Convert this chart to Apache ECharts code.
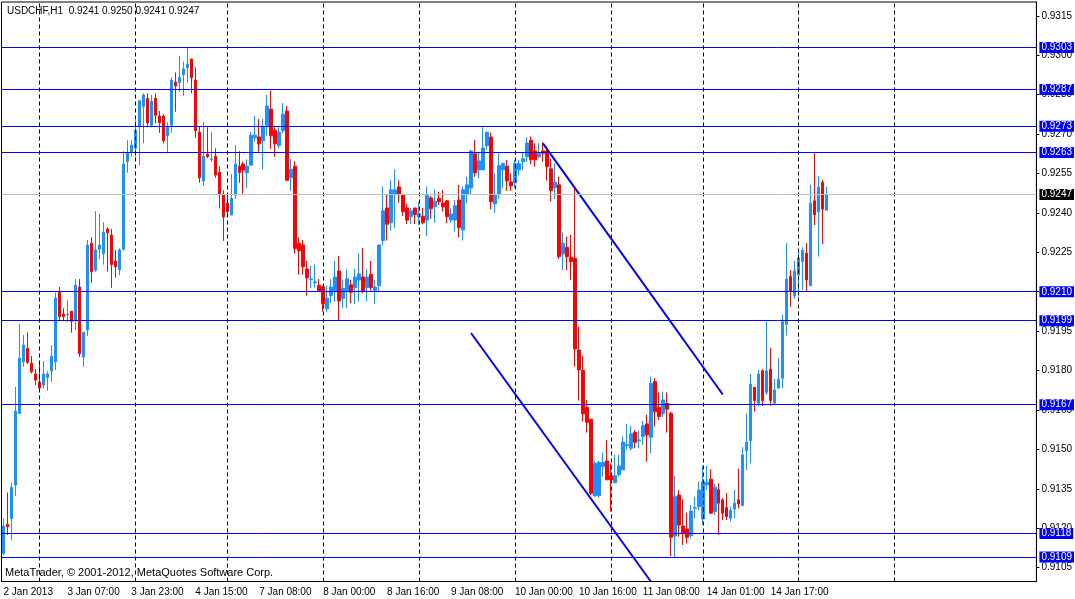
<!DOCTYPE html>
<html>
<head>
<meta charset="utf-8">
<title>USDCHF,H1</title>
<script src="https://cdn.jsdelivr.net/npm/echarts@6/dist/echarts.min.js"></script>
<style>
  html, body { margin: 0; padding: 0; background: #fff; }
  #chart-container { width: 1075px; height: 599px; }
</style>
</head>
<body>
<div id="chart-container"></div>
<script>
var dom = document.getElementById("chart-container");
var myChart = echarts.init(dom, null, { renderer: "canvas" });

// trading days: [label, first hour, last hour]
var days = [
  ["2 Jan", 15, 23], ["3 Jan", 0, 23], ["4 Jan", 0, 22], ["7 Jan", 0, 23],
  ["8 Jan", 0, 23], ["9 Jan", 0, 23], ["10 Jan", 0, 23], ["11 Jan", 0, 22],
  ["14 Jan", 0, 23], ["15 Jan", 0, 23], ["16 Jan", 0, 23], ["17 Jan", 0, 11]
];

// H1 bars: [open, close, low, high]
var candles = [
  [0.91104, 0.91208, 0.91097, 0.91237], [0.91215, 0.91205, 0.91174, 0.91336],
  [0.91236, 0.91355, 0.91155, 0.91374], [0.91364, 0.91646, 0.91323, 0.91738],
  [0.91636, 0.91847, 0.91636, 0.91977], [0.91833, 0.91897, 0.91814, 0.91935],
  [0.91885, 0.91831, 0.91825, 0.91945], [0.91828, 0.91795, 0.91789, 0.91855],
  [0.91787, 0.91764, 0.91745, 0.91806], [0.91756, 0.91734, 0.91723, 0.91830],
  [0.91745, 0.91787, 0.91732, 0.91836], [0.91773, 0.91787, 0.91723, 0.91798],
  [0.91798, 0.91855, 0.91757, 0.91897], [0.91833, 0.92076, 0.91802, 0.92097],
  [0.92097, 0.92005, 0.91988, 0.92118], [0.92015, 0.92005, 0.91988, 0.92037],
  [0.92012, 0.92015, 0.91986, 0.92068], [0.92026, 0.91988, 0.91944, 0.92026],
  [0.91992, 0.92125, 0.91954, 0.92148], [0.92118, 0.91864, 0.91852, 0.92148],
  [0.91852, 0.91946, 0.91814, 0.91946], [0.91954, 0.92278, 0.91932, 0.92297],
  [0.92285, 0.92176, 0.92134, 0.92308], [0.92182, 0.92259, 0.92176, 0.92407],
  [0.92262, 0.92278, 0.92224, 0.92397], [0.92245, 0.92327, 0.92203, 0.92365],
  [0.92339, 0.92325, 0.92176, 0.92346], [0.92316, 0.92203, 0.92115, 0.92339],
  [0.92217, 0.92195, 0.92153, 0.92259], [0.92184, 0.92259, 0.92163, 0.92265],
  [0.92262, 0.92586, 0.92256, 0.92635], [0.92595, 0.92628, 0.92553, 0.92677],
  [0.92632, 0.92658, 0.92614, 0.92677], [0.92646, 0.92715, 0.92614, 0.92753],
  [0.92728, 0.92827, 0.92582, 0.92830], [0.92804, 0.92849, 0.92665, 0.92855],
  [0.92836, 0.92743, 0.92726, 0.92855], [0.92734, 0.92826, 0.92726, 0.92849],
  [0.92836, 0.92772, 0.92741, 0.92855], [0.92769, 0.92743, 0.92705, 0.92788],
  [0.92769, 0.92675, 0.92665, 0.92776], [0.92694, 0.92726, 0.92627, 0.92745],
  [0.92734, 0.92906, 0.92705, 0.92916], [0.92898, 0.92883, 0.92785, 0.92935],
  [0.92896, 0.92916, 0.92861, 0.92997], [0.92926, 0.92948, 0.92846, 0.92976],
  [0.92953, 0.92967, 0.92896, 0.93030], [0.92986, 0.92915, 0.92855, 0.92986],
  [0.92906, 0.92713, 0.92686, 0.92954], [0.92708, 0.92534, 0.92515, 0.92728],
  [0.92522, 0.92616, 0.92503, 0.92746], [0.92624, 0.92614, 0.92608, 0.92726],
  [0.92604, 0.92606, 0.92595, 0.92708], [0.92616, 0.92544, 0.92534, 0.92646],
  [0.92555, 0.92472, 0.92417, 0.92578], [0.92469, 0.92385, 0.92294, 0.92486],
  [0.92437, 0.92405, 0.92385, 0.92469], [0.92392, 0.92455, 0.92392, 0.92548],
  [0.92468, 0.92586, 0.92453, 0.92658], [0.92578, 0.92553, 0.92515, 0.92635],
  [0.92586, 0.92563, 0.92473, 0.92595], [0.92553, 0.92578, 0.92496, 0.92604],
  [0.92582, 0.92696, 0.92582, 0.92708], [0.92686, 0.92696, 0.92672, 0.92769],
  [0.92689, 0.92663, 0.92633, 0.92757], [0.92675, 0.92726, 0.92566, 0.92757],
  [0.92734, 0.92807, 0.92694, 0.92849], [0.92795, 0.92694, 0.92644, 0.92866],
  [0.92715, 0.92663, 0.92614, 0.92726], [0.92657, 0.92708, 0.92646, 0.92726],
  [0.92713, 0.92776, 0.92703, 0.92818], [0.92788, 0.92524, 0.92524, 0.92807],
  [0.92534, 0.92566, 0.92484, 0.92606], [0.92578, 0.92265, 0.92246, 0.92597],
  [0.92284, 0.92256, 0.92165, 0.92307], [0.92278, 0.92195, 0.92165, 0.92297],
  [0.92187, 0.92153, 0.92085, 0.92217], [0.92147, 0.92149, 0.92115, 0.92198],
  [0.92135, 0.92138, 0.92115, 0.92204], [0.92124, 0.92104, 0.92104, 0.92148],
  [0.92118, 0.92054, 0.92024, 0.92124], [0.92035, 0.92075, 0.92024, 0.92124],
  [0.92086, 0.92118, 0.92056, 0.92148], [0.92104, 0.92156, 0.92062, 0.92217],
  [0.92179, 0.92065, 0.91993, 0.92236], [0.92075, 0.92113, 0.92037, 0.92147],
  [0.92104, 0.92149, 0.92037, 0.92185], [0.92126, 0.92098, 0.92056, 0.92145],
  [0.92116, 0.92156, 0.92053, 0.92187], [0.92145, 0.92168, 0.92062, 0.92246],
  [0.92156, 0.92103, 0.92094, 0.92267], [0.92116, 0.92156, 0.92065, 0.92185],
  [0.92166, 0.92116, 0.92104, 0.92217], [0.92103, 0.92118, 0.92053, 0.92145],
  [0.92123, 0.92278, 0.92104, 0.92278], [0.92295, 0.92408, 0.92278, 0.92500],
  [0.92419, 0.92357, 0.92295, 0.92472], [0.92363, 0.92488, 0.92333, 0.92524],
  [0.92472, 0.92488, 0.92342, 0.92566], [0.92499, 0.92472, 0.92439, 0.92524],
  [0.92467, 0.92405, 0.92389, 0.92469], [0.92419, 0.92373, 0.92358, 0.92436],
  [0.92386, 0.92408, 0.92358, 0.92419], [0.92419, 0.92394, 0.92358, 0.92419],
  [0.92386, 0.92396, 0.92354, 0.92441], [0.92387, 0.92363, 0.92357, 0.92419],
  [0.92373, 0.92467, 0.92312, 0.92500], [0.92457, 0.92416, 0.92378, 0.92465],
  [0.92424, 0.92444, 0.92363, 0.92488], [0.92456, 0.92443, 0.92430, 0.92481],
  [0.92438, 0.92423, 0.92405, 0.92488], [0.92446, 0.92386, 0.92361, 0.92449],
  [0.92373, 0.92396, 0.92363, 0.92418], [0.92373, 0.92427, 0.92329, 0.92449],
  [0.92449, 0.92344, 0.92307, 0.92507], [0.92335, 0.92488, 0.92295, 0.92500],
  [0.92472, 0.92507, 0.92437, 0.92538], [0.92495, 0.92636, 0.92469, 0.92640],
  [0.92625, 0.92553, 0.92538, 0.92678], [0.92564, 0.92598, 0.92532, 0.92633],
  [0.92564, 0.92647, 0.92564, 0.92726], [0.92656, 0.92707, 0.92640, 0.92710],
  [0.92689, 0.92443, 0.92414, 0.92706], [0.92435, 0.92468, 0.92401, 0.92551],
  [0.92472, 0.92580, 0.92453, 0.92627], [0.92564, 0.92588, 0.92494, 0.92592],
  [0.92578, 0.92522, 0.92484, 0.92602], [0.92518, 0.92503, 0.92484, 0.92551],
  [0.92515, 0.92588, 0.92494, 0.92602], [0.92564, 0.92588, 0.92545, 0.92602],
  [0.92595, 0.92606, 0.92564, 0.92633], [0.92614, 0.92666, 0.92595, 0.92688],
  [0.92677, 0.92603, 0.92585, 0.92691], [0.92636, 0.92602, 0.92576, 0.92665],
  [0.92614, 0.92625, 0.92608, 0.92665], [0.92636, 0.92627, 0.92595, 0.92669],
  [0.92636, 0.92576, 0.92523, 0.92653], [0.92568, 0.92485, 0.92443, 0.92606],
  [0.92496, 0.92517, 0.92453, 0.92589], [0.92507, 0.92234, 0.92225, 0.92538],
  [0.92244, 0.92285, 0.92183, 0.92326], [0.92269, 0.92234, 0.92183, 0.92310],
  [0.92231, 0.92215, 0.92145, 0.92316], [0.92227, 0.91882, 0.91815, 0.92500],
  [0.91878, 0.91802, 0.91686, 0.91967], [0.91800, 0.91636, 0.91606, 0.91857],
  [0.91660, 0.91603, 0.91564, 0.91688], [0.91615, 0.91333, 0.91326, 0.91615],
  [0.91323, 0.91447, 0.91320, 0.91456], [0.91324, 0.91450, 0.91316, 0.91456],
  [0.91434, 0.91450, 0.91396, 0.91488], [0.91456, 0.91384, 0.91384, 0.91536],
  [0.91399, 0.91384, 0.91263, 0.91447], [0.91373, 0.91400, 0.91373, 0.91479],
  [0.91403, 0.91437, 0.91396, 0.91479], [0.91422, 0.91528, 0.91422, 0.91549],
  [0.91514, 0.91518, 0.91498, 0.91597], [0.91504, 0.91559, 0.91495, 0.91589],
  [0.91565, 0.91527, 0.91504, 0.91574], [0.91533, 0.91536, 0.91504, 0.91571],
  [0.91549, 0.91590, 0.91517, 0.91608], [0.91597, 0.91555, 0.91453, 0.91631],
  [0.91546, 0.91752, 0.91485, 0.91777], [0.91758, 0.91643, 0.91587, 0.91771],
  [0.91659, 0.91625, 0.91612, 0.91717], [0.91637, 0.91688, 0.91622, 0.91720],
  [0.91675, 0.91653, 0.91564, 0.91717], [0.91637, 0.91165, 0.91094, 0.91644],
  [0.91170, 0.91320, 0.91085, 0.91399], [0.91326, 0.91212, 0.91168, 0.91345],
  [0.91208, 0.91181, 0.91136, 0.91310], [0.91197, 0.91165, 0.91142, 0.91259],
  [0.91172, 0.91265, 0.91161, 0.91288], [0.91276, 0.91278, 0.91238, 0.91320],
  [0.91282, 0.91345, 0.91269, 0.91377], [0.91235, 0.91377, 0.91212, 0.91438],
  [0.91365, 0.91375, 0.91346, 0.91437], [0.91386, 0.91257, 0.91257, 0.91424],
  [0.91263, 0.91356, 0.91250, 0.91369], [0.91346, 0.91295, 0.91174, 0.91371],
  [0.91308, 0.91257, 0.91231, 0.91314], [0.91278, 0.91244, 0.91231, 0.91333],
  [0.91238, 0.91267, 0.91225, 0.91282], [0.91273, 0.91295, 0.91238, 0.91346],
  [0.91308, 0.91292, 0.91276, 0.91426], [0.91286, 0.91479, 0.91286, 0.91508],
  [0.91495, 0.91527, 0.91422, 0.91637], [0.91533, 0.91748, 0.91447, 0.91787],
  [0.91736, 0.91686, 0.91644, 0.91736], [0.91676, 0.91787, 0.91663, 0.91802],
  [0.91799, 0.91686, 0.91665, 0.91805], [0.91717, 0.91799, 0.91707, 0.91986],
  [0.91805, 0.91686, 0.91665, 0.91885], [0.91676, 0.91726, 0.91676, 0.91768],
  [0.91733, 0.91767, 0.91733, 0.91847], [0.91771, 0.91986, 0.91733, 0.92012],
  [0.91976, 0.92148, 0.91933, 0.92285], [0.92158, 0.92101, 0.92043, 0.92183],
  [0.92085, 0.92179, 0.92073, 0.92217], [0.92164, 0.92228, 0.92082, 0.92262],
  [0.92215, 0.92257, 0.92107, 0.92269], [0.92247, 0.92145, 0.92101, 0.92285],
  [0.92123, 0.92437, 0.92123, 0.92507], [0.92446, 0.92393, 0.92354, 0.92627],
  [0.92405, 0.92498, 0.92234, 0.92541], [0.92517, 0.92415, 0.92282, 0.92526],
  [0.92410, 0.92470, 0.92410, 0.92500]
];

// horizontal levels drawn on the chart
var levels = [0.9303, 0.9287, 0.9273, 0.9263, 0.9210, 0.9199, 0.9167, 0.9118, 0.9109];
var bidLevel = 0.9247;

// trend channel: [[bar index, price], [bar index, price]]
var trendLines = [
  [[135, 0.92665], [180, 0.91709]],
  [[117, 0.91943], [162, 0.90997]]
];

// bar indexes of day starts (vertical dashed grid)
var dayStarts = [9, 33, 56, 80, 104, 128, 152, 175, 199, 223];

// time axis labels
var tickIdx = [0, 16, 32, 48, 64, 80, 96, 112, 128, 144, 160, 176, 192];
var tickText = ["2 Jan 2013", "3 Jan 07:00", "3 Jan 23:00", "4 Jan 15:00", "7 Jan 08:00",
  "8 Jan 00:00", "8 Jan 16:00", "9 Jan 08:00", "10 Jan 00:00", "10 Jan 16:00",
  "11 Jan 08:00", "14 Jan 01:00", "14 Jan 17:00"];

// price axis ticks
var yTicks = [0.9105, 0.9120, 0.9135, 0.9150, 0.9165, 0.9180, 0.9195, 0.9210,
  0.9225, 0.9240, 0.9255, 0.9270, 0.9285, 0.9300, 0.9315];

var cats = [];
days.forEach(function (d) {
  for (var h = d[1]; h <= d[2]; h++) {
    cats.push(d[0] + " " + (h < 10 ? "0" : "") + h + ":00");
  }
});

var FONT = "Liberation Sans";

function isTick(index) {
  return tickIdx.indexOf(index) >= 0;
}

var marks = [];
dayStarts.forEach(function (i) {
  marks.push({
    xAxis: i,
    label: { show: false },
    lineStyle: { color: "#000", width: 1, type: [4, 3] }
  });
});
trendLines.forEach(function (t) {
  marks.push([
    { coord: t[0], label: { show: false }, lineStyle: { color: "#0000ff", width: 2, type: "solid" } },
    { coord: t[1] }
  ]);
});
marks.push({
  yAxis: bidLevel,
  lineStyle: { color: "#c0c0c0", width: 1, type: "solid" },
  label: { backgroundColor: "#000" }
});
levels.forEach(function (v) {
  marks.push({
    yAxis: v,
    lineStyle: { color: "#0000ff", width: 1, type: "solid" }
  });
});

var option = {
  animation: false,
  backgroundColor: "#fff",
  textStyle: { fontFamily: FONT },
  grid: {
    left: 1.5,
    right: 37.5,
    top: 2,
    bottom: 17.5,
    show: true,
    borderColor: "#000",
    borderWidth: 1,
    backgroundColor: "#fff"
  },
  xAxis: {
    type: "category",
    data: cats,
    boundaryGap: true,
    axisLine: { lineStyle: { color: "#000", width: 1 } },
    axisTick: {
      alignWithLabel: true,
      interval: isTick,
      length: 4,
      lineStyle: { color: "#000" }
    },
    axisLabel: {
      interval: isTick,
      align: "left",
      margin: 6,
      color: "#000",
      fontSize: 10,
      fontFamily: FONT,
      formatter: function (val, index) {
        var k = tickIdx.indexOf(index);
        return k >= 0 ? tickText[k] : "";
      }
    },
    splitLine: { show: false }
  },
  yAxis: {
    type: "value",
    position: "right",
    min: 0.90997,
    max: 0.93203,
    axisLine: { show: true, lineStyle: { color: "#000", width: 1 } },
    axisTick: {
      show: true,
      length: 3,
      customValues: yTicks,
      lineStyle: { color: "#000" }
    },
    axisLabel: {
      customValues: yTicks,
      margin: 5,
      color: "#000",
      fontSize: 10,
      fontFamily: FONT,
      formatter: function (v) { return v.toFixed(4); }
    },
    splitLine: { show: false }
  },
  graphic: [
    {
      type: "text",
      left: 7,
      top: 6,
      style: {
        text: "USDCHF,H1  0.9241 0.9250 0.9241 0.9247",
        fill: "#000",
        font: "10px '" + FONT + "'"
      }
    },
    {
      type: "text",
      left: 5,
      top: 567,
      style: {
        text: "MetaTrader, \u00a9 2001-2012, MetaQuotes Software Corp.",
        fill: "#000",
        font: "11px '" + FONT + "'"
      }
    }
  ],
  series: [
    {
      type: "candlestick",
      data: candles,
      barWidth: 3,
      emphasis: { disabled: true },
      itemStyle: {
        color: "#1e90ff",
        color0: "#ff0000",
        borderColor: "#1e90ff",
        borderColor0: "#ff0000",
        borderWidth: 1
      },
      markLine: {
        silent: true,
        symbol: "none",
        animation: false,
        precision: 5,
        label: {
          show: true,
          position: "end",
          distance: 3,
          color: "#fff",
          backgroundColor: "#0000ff",
          padding: [1, 2, 0, 2],
          fontSize: 10,
          fontFamily: FONT,
          formatter: function (p) { return Number(p.value).toFixed(4); }
        },
        data: marks
      }
    }
  ]
};

myChart.setOption(option);
window.addEventListener("resize", myChart.resize);
</script>
</body>
</html>
